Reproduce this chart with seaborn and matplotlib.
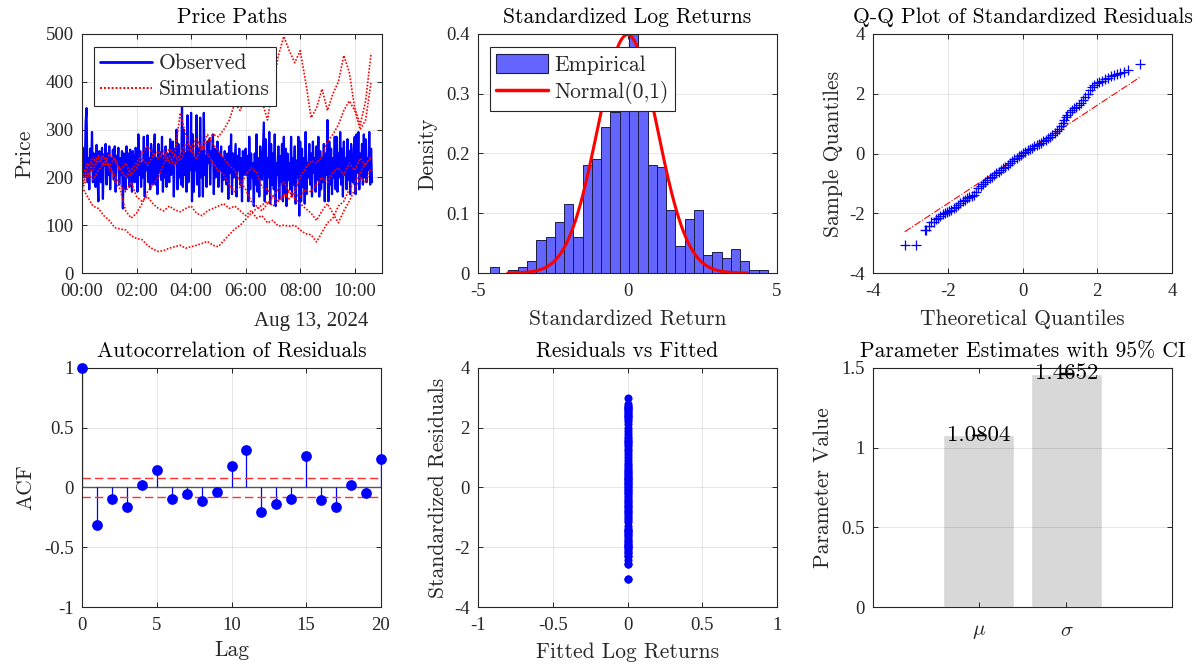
import numpy as np
import pandas as pd
import matplotlib
matplotlib.use("Agg")
import matplotlib.pyplot as plt
import matplotlib.dates as mdates
from matplotlib.lines import Line2D
from matplotlib.patches import Patch
from matplotlib.ticker import FuncFormatter
import seaborn as sns

# ---------------- data ----------------
observed_price = [
    180, 262, 230, 200, 315, 345, 190, 240, 175, 260,
    215, 295, 190, 250, 230, 180, 268, 205, 150, 255,
    240, 190, 262, 155, 248, 225, 270, 185, 250, 205,
    265, 175, 240, 215, 258, 195, 265, 170, 245, 230,
    262, 185, 240, 205, 255, 135, 250, 220, 175, 265,
    200, 250, 180, 258, 210, 170, 255, 225, 190, 262,
    245, 170, 290, 205, 255, 180, 230, 200, 285, 160,
    260, 215, 288, 190, 240, 175, 270, 230, 185, 255,
    290, 185, 240, 165, 270, 210, 252, 195, 285, 170,
    245, 200, 265, 180, 250, 225, 190, 280, 205, 245,
    275, 160, 260, 230, 300, 175, 270, 200, 245, 185,
    352, 180, 300, 205, 250, 170, 330, 190, 265, 215,
    335, 150, 290, 170, 240, 215, 330, 185, 260, 160,
    325, 200, 255, 160, 335, 205, 245, 180, 275, 230,
    280, 185, 255, 240, 290, 165, 260, 200, 230, 275,
    180, 250, 215, 265, 170, 240, 195, 255, 210, 185,
    250, 155, 265, 210, 290, 165, 250, 200, 235, 270,
    160, 245, 215, 260, 185, 240, 150, 255, 205, 230,
    260, 205, 245, 150, 285, 175, 250, 200, 230, 140,
    250, 185, 290, 170, 240, 160, 265, 215, 195, 255,
    315, 150, 280, 165, 240, 200, 295, 145, 270, 185,
    250, 175, 290, 140, 230, 205, 265, 155, 245, 190,
    270, 150, 285, 165, 260, 140, 250, 195, 230, 175,
    285, 160, 240, 185, 265, 145, 235, 200, 285, 120,
    275, 150, 260, 180, 240, 145, 295, 165, 230, 200,
    270, 185, 250, 160, 275, 210, 240, 170, 265, 195,
    285, 160, 255, 175, 240, 190, 270, 150, 250, 205,
    320, 150, 275, 185, 260, 165, 240, 200, 285, 175,
    285, 170, 250, 200, 295, 185, 260, 160, 275, 205,
    240, 175, 280, 195, 255, 165, 270, 215, 190, 260,
    285, 165, 290, 210, 295, 175, 250, 200, 270, 185,
    290, 200, 280, 190, 240, 215, 295, 185, 260, 190,
]
observed_step_min = 2

sim_path_1 = [180, 160, 140, 135, 120, 110, 95, 92, 90, 78, 72, 70, 58, 50, 45, 47, 52, 55,
              58, 52, 55, 58, 62, 66, 58, 55, 68, 80, 92, 100, 112, 125, 135, 142, 150, 140,
              150, 160, 170, 165, 160, 175, 170, 185, 200, 190, 210, 220, 205, 230, 215, 240, 225, 245]
sim_path_2 = [180, 210, 195, 215, 230, 225, 205, 185, 170, 190, 160, 150, 160, 145, 135, 130, 140, 132,
              128, 135, 140, 125, 120, 130, 135, 140, 145, 135, 140, 130, 120, 130, 115, 120, 105, 110,
              98, 100, 98, 100, 90, 82, 80, 65, 85, 105, 115, 140, 150, 175, 190, 210, 230, 240]
sim_path_3 = [200, 230, 215, 240, 225, 250, 235, 215, 230, 205, 220, 240, 225, 245, 255, 240, 260, 245,
              235, 260, 255, 270, 260, 275, 290, 285, 300, 320, 355, 340, 370, 400, 385, 360, 320, 390,
              455, 495, 465, 440, 465, 400, 325, 345, 385, 340, 375, 400, 455, 420, 345, 310, 360, 460]
sim_path_4 = [185, 220, 240, 230, 245, 225, 240, 215, 200, 215, 230, 250, 265, 250, 240, 255, 230, 245,
              335, 290, 255, 240, 265, 250, 230, 215, 205, 185, 170, 180, 205, 220, 210, 180, 175, 160,
              150, 165, 155, 170, 200, 220, 235, 230, 245, 275, 290, 310, 340, 360, 340, 300, 320, 400]
sim_path_5 = [175, 200, 230, 245, 240, 220, 195, 175, 130, 115, 125, 145, 170, 185, 200, 230, 245, 225,
              250, 270, 265, 280, 260, 290, 270, 255, 240, 225, 215, 190, 175, 150, 140, 130, 145, 160,
              175, 190, 170, 155, 145, 135, 125, 110, 130, 145, 125, 105, 130, 150, 175, 200, 190, 220]
sim_step_min = 12

hist_edges = [round(-4.6 + 0.31 * k, 2) for k in range(31)]
hist_density = [0.010, 0.000, 0.005, 0.010, 0.020, 0.055, 0.060, 0.085, 0.115, 0.060,
                0.180, 0.190, 0.245, 0.270, 0.300, 0.400, 0.300, 0.180, 0.177, 0.105,
                0.045, 0.090, 0.105, 0.030, 0.035, 0.025, 0.040, 0.020, 0.005, 0.005]

qq_theory = [-3.15, -2.84, -2.62, -2.57, -2.50, -2.44, -2.38, -2.32, -2.26, -2.20, -2.14, -2.08,
             -2.02, -1.96, -1.90, -1.84, -1.78, -1.72, -1.66, -1.60, -1.54, -1.48, -1.42, -1.36,
             -1.30, -1.24, -1.18, -1.12, -1.06, -1.00, -0.94, -0.88, -0.82, -0.76, -0.70, -0.64,
             -0.58, -0.52, -0.46, -0.40, -0.34, -0.28, -0.22, -0.16, -0.10, -0.04, 0.02, 0.08,
             0.14, 0.20, 0.26, 0.32, 0.38, 0.44, 0.50, 0.56, 0.62, 0.68, 0.74, 0.80, 0.86, 0.92,
             0.98, 1.04, 1.08, 1.12, 1.16, 1.20, 1.26, 1.32, 1.38, 1.44, 1.50, 1.56, 1.62, 1.68,
             1.74, 1.80, 1.86, 1.92, 1.98, 2.06, 2.14, 2.22, 2.30, 2.38, 2.46, 2.54, 2.62, 2.72,
             2.83, 3.15]
qq_sample = [-3.05, -3.05, -2.55, -2.55, -2.42, -2.30, -2.28, -2.20, -2.15, -2.10, -2.04, -2.00,
             -1.97, -1.93, -1.88, -1.83, -1.78, -1.72, -1.66, -1.60, -1.54, -1.49, -1.45, -1.42,
             -1.38, -1.30, -1.17, -1.10, -1.02, -0.95, -0.89, -0.83, -0.77, -0.71, -0.66, -0.61,
             -0.56, -0.50, -0.44, -0.37, -0.31, -0.25, -0.20, -0.14, -0.09, -0.04, 0.01, 0.06,
             0.11, 0.16, 0.20, 0.24, 0.28, 0.32, 0.36, 0.41, 0.46, 0.51, 0.56, 0.62, 0.68, 0.74,
             0.82, 0.92, 1.02, 1.12, 1.22, 1.30, 1.38, 1.45, 1.51, 1.56, 1.62, 1.69, 1.78, 1.88,
             2.00, 2.12, 2.22, 2.30, 2.35, 2.40, 2.44, 2.48, 2.53, 2.58, 2.62, 2.65, 2.68, 2.72,
             2.78, 3.00]
qq_ref_x = [-3.15, 3.15]
qq_ref_y = [-2.62, 2.56]

acf_lags = list(range(21))
acf_values = [1.0, -0.314, -0.10, -0.167, 0.02, 0.147, -0.10, -0.056, -0.114, -0.036, 0.18,
              0.31, -0.203, -0.139, -0.097, 0.26, -0.103, -0.164, 0.017, -0.042, 0.236]
acf_bound = 0.082

fitted_value = 0.003

param_labels = [r"$\mu$", r"$\sigma$"]
param_values = [1.0804, 1.4652]
param_ci_low = [1.0784, 1.4632]
param_ci_high = [1.0824, 1.4672]

# ---------------- style ----------------
sns.set_theme(style="ticks")
DARK = "#262626"
plt.rcParams.update({
    "font.family": ["Liberation Serif", "DejaVu Serif"],
    "mathtext.fontset": "cm",
    "axes.unicode_minus": False,
    "axes.edgecolor": DARK,
    "axes.linewidth": 0.8,
    "axes.facecolor": "white",
    "figure.facecolor": "white",
    "xtick.color": DARK, "ytick.color": DARK,
    "xtick.labelcolor": DARK, "ytick.labelcolor": DARK,
    "xtick.direction": "in", "ytick.direction": "in",
    "xtick.top": True, "ytick.right": True,
    "xtick.major.size": 3.5, "ytick.major.size": 3.5,
    "xtick.major.width": 0.7, "ytick.major.width": 0.7,
    "xtick.major.pad": 7, "ytick.major.pad": 6,
    "xtick.labelsize": 13.5, "ytick.labelsize": 13.5,
    "grid.color": "#000000", "grid.alpha": 0.1, "grid.linewidth": 0.7,
})
FS = 15.5
TF = dict(family="cmr10", size=FS, color="black")
LF = dict(family="cmr10", size=FS, color=DARK)
gfmt = FuncFormatter(lambda v, p: f"{v:g}")

fig = plt.figure(figsize=(12.04, 6.68), dpi=100)
W, H = 1204, 668
def axes_at(l, t, r, b):
    return fig.add_axes([l / W, 1 - b / H, (r - l) / W, (b - t) / H])

ax1 = axes_at(82, 34, 382, 273)
ax2 = axes_at(478, 34, 777, 273)
ax3 = axes_at(873, 34, 1172, 273)
ax4 = axes_at(82, 368, 381, 607)
ax5 = axes_at(478, 368, 777, 607)
ax6 = axes_at(873, 368, 1172, 607)

for a in (ax1, ax2, ax3, ax4, ax5, ax6):
    a.grid(True)
    for s in a.spines.values():
        s.set_visible(True)

TPAD = 8
XLPAD = 7
leg_kw = dict(loc="upper left", prop=dict(family="cmr10", size=FS), frameon=True, fancybox=False,
              edgecolor=DARK, framealpha=1, handlelength=2.4, handletextpad=0.3,
              borderpad=0.3, labelspacing=0.3, borderaxespad=0)

# ---------------- 1: price paths ----------------
t0 = pd.Timestamp("2024-08-13 00:00")
obs_t = t0 + pd.to_timedelta(np.arange(len(observed_price)) * observed_step_min, unit="m")
sns.lineplot(x=obs_t, y=observed_price, color="blue", lw=1.6, estimator=None, ax=ax1)
for path in (sim_path_1, sim_path_2, sim_path_3, sim_path_4, sim_path_5):
    st = t0 + pd.to_timedelta(np.arange(len(path)) * sim_step_min, unit="m")
    sns.lineplot(x=st, y=path, color="red", lw=1.2, linestyle=(0, (1, 1)), estimator=None, ax=ax1)
ax1.set_xlim(t0, t0 + pd.Timedelta(hours=11))
ax1.set_ylim(0, 500)
ax1.set_yticks([0, 100, 200, 300, 400, 500])
ax1.xaxis.set_major_locator(mdates.HourLocator(byhour=range(0, 24, 2)))
ax1.xaxis.set_major_formatter(mdates.DateFormatter("%H:%M"))
ax1.set_title("Price Paths", fontdict=TF, pad=TPAD)
ax1.set_ylabel("Price", fontdict=LF, labelpad=8)
ax1.set_xlabel("")
ax1.text(0.955, -0.165, "Aug 13, 2024", transform=ax1.transAxes, ha="right", va="top",
         fontsize=15, color=DARK)
h1 = [Line2D([], [], color="blue", lw=2), Line2D([], [], color="red", lw=1.4, ls=(0, (1, 1)))]
lg = ax1.legend(h1, ["Observed", "Simulations"], bbox_to_anchor=(0.04, 0.945), **leg_kw)
lg.get_frame().set_linewidth(0.8)

# ---------------- 2: histogram ----------------
centers = [(hist_edges[i] + hist_edges[i + 1]) / 2 for i in range(len(hist_density))]
hist_df = pd.DataFrame({"ret": centers, "dens": hist_density})
sns.histplot(data=hist_df, x="ret", weights="dens", bins=hist_edges, stat="count",
             color="#6464FF", alpha=1, edgecolor="#1c1c48", linewidth=0.7, ax=ax2)
xs = np.linspace(-4, 4, 200)
sns.lineplot(x=xs, y=np.exp(-xs ** 2 / 2) / np.sqrt(2 * np.pi), color="red", lw=2.2, ax=ax2)
ax2.set_xlim(-5, 5)
ax2.set_ylim(0, 0.4)
ax2.set_xticks([-5, 0, 5])
ax2.set_yticks([0, 0.1, 0.2, 0.3, 0.4])
ax2.yaxis.set_major_formatter(gfmt)
ax2.set_title("Standardized Log Returns", fontdict=TF, pad=TPAD)
ax2.set_xlabel("Standardized Return", fontdict=LF, labelpad=XLPAD)
ax2.set_ylabel("Density", fontdict=LF, labelpad=6)
ax2.set_axisbelow(True)
h2 = [Patch(facecolor="#6464FF", edgecolor="#1c1c48", lw=0.8), Line2D([], [], color="red", lw=2.5)]
lg2 = ax2.legend(h2, ["Empirical", "Normal(0,1)"], bbox_to_anchor=(0.04, 0.945),
                 handleheight=1.0, **leg_kw)
lg2.get_frame().set_linewidth(0.8)

# ---------------- 3: Q-Q ----------------
sns.lineplot(x=qq_ref_x, y=qq_ref_y, color="red", lw=0.8, linestyle="-.", ax=ax3, zorder=2)
sns.scatterplot(x=qq_theory, y=qq_sample, marker="+", color="blue", s=45, linewidth=0.9,
                ax=ax3, zorder=3)
ax3.set_xlim(-4, 4)
ax3.set_ylim(-4, 4)
ax3.set_xticks([-4, -2, 0, 2, 4])
ax3.set_yticks([-4, -2, 0, 2, 4])
ax3.set_title("Q-Q Plot of Standardized Residuals", fontdict=TF, pad=TPAD)
ax3.set_xlabel("Theoretical Quantiles", fontdict=LF, labelpad=XLPAD)
ax3.set_ylabel("Sample Quantiles", fontdict=LF, labelpad=4)

# ---------------- 4: ACF ----------------
ax4.axhline(0, color="#555555", lw=1.0, zorder=1)
ax4.vlines(acf_lags, 0, acf_values, color="blue", lw=0.9, zorder=2)
sns.scatterplot(x=acf_lags, y=acf_values, color="blue", s=60, edgecolor="blue", linewidth=0,
                ax=ax4, zorder=3, clip_on=False)
ax4.axhline(acf_bound, color="#ff3030", lw=1.0, ls=(0, (6, 3)), zorder=2)
ax4.axhline(-acf_bound, color="#ff3030", lw=1.0, ls=(0, (6, 3)), zorder=2)
ax4.set_xlim(0, 20)
ax4.set_ylim(-1, 1)
ax4.set_xticks([0, 5, 10, 15, 20])
ax4.set_yticks([-1, -0.5, 0, 0.5, 1])
ax4.yaxis.set_major_formatter(gfmt)
ax4.set_title("Autocorrelation of Residuals", fontdict=TF, pad=TPAD)
ax4.set_xlabel("Lag", fontdict=LF, labelpad=XLPAD - 2)
ax4.set_ylabel("ACF", fontdict=LF, labelpad=6)

# ---------------- 5: residuals vs fitted ----------------
sns.scatterplot(x=[fitted_value] * len(qq_sample), y=qq_sample, color="blue", s=34,
                edgecolor="blue", linewidth=0, ax=ax5, zorder=3)
ax5.set_xlim(-1, 1)
ax5.set_ylim(-4, 4)
ax5.set_xticks([-1, -0.5, 0, 0.5, 1])
ax5.set_yticks([-4, -2, 0, 2, 4])
ax5.xaxis.set_major_formatter(gfmt)
ax5.set_title("Residuals vs Fitted", fontdict=TF, pad=TPAD)
ax5.set_xlabel("Fitted Log Returns", fontdict=LF, labelpad=XLPAD - 1)
ax5.set_ylabel("Standardized Residuals", fontdict=LF, labelpad=4)

# ---------------- 6: parameters ----------------
sns.barplot(x=param_labels, y=param_values, color="#D8D8D8", saturation=1, width=0.8,
            errorbar=None, ax=ax6, zorder=1)
ax6.set_axisbelow(False)
pos = np.arange(len(param_values))
ax6.errorbar(pos, param_values,
             yerr=[np.array(param_values) - np.array(param_ci_low),
                   np.array(param_ci_high) - np.array(param_values)],
             fmt="none", ecolor="black", capsize=5, elinewidth=1, zorder=4)
for i, v in enumerate(param_values):
    ax6.text(pos[i], v, f"{v:.4f}", ha="center", va="center", family="cmr10", fontsize=FS + 1,
             color="black", zorder=5)
ax6.set_xlim(-1.2, 2.2)
ax6.set_ylim(0, 1.5)
ax6.set_yticks([0, 0.5, 1, 1.5])
ax6.yaxis.set_major_formatter(gfmt)
ax6.tick_params(axis="x", labelsize=15, pad=11)
ax6.set_title("Parameter Estimates with 95% CI", fontdict=TF, pad=TPAD)
ax6.set_ylabel("Parameter Value", fontdict=LF, labelpad=6)
ax6.set_xlabel("")

fig.savefig("out.png", dpi=100)
